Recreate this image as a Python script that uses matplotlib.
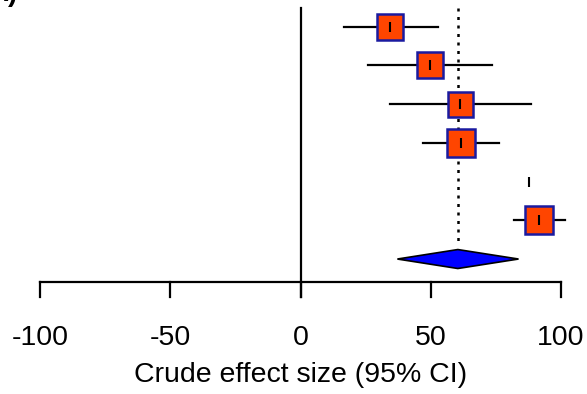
import numpy as np
import matplotlib
matplotlib.use("Agg")
import matplotlib.pyplot as plt
from matplotlib.patches import Polygon

plt.rcParams['font.family'] = ['Liberation Sans', 'DejaVu Sans']

# study estimates (crude effect size) and 95% CI, top to bottom
est = [34.2, 49.6, 61.2, 61.5, 87.6, 91.7]
lo = [16.5, 26.0, 34.4, 47.2, np.nan, 81.8]
hi = [52.7, 73.7, 88.6, 76.2, np.nan, 101.7]
box = [18.5, 18.5, 18, 19.5, 0, 19.5]  # box sizes (weights)
rows = [1, 2, 3, 4, 5, 6]

# pooled estimate
pooled = 60.4
pooled_lo = 37.2
pooled_hi = 83.7
pooled_row = 7

ticks = [-100, -50, 0, 50, 100]

fig = plt.figure(figsize=(5.87, 3.94), dpi=100)
ax = fig.add_axes([0, 0, 1, 1])
ax.set_xlim(-115.4, 110.0)
ax.set_ylim(10.486, 0.310)
ax.axis('off')

# zero line and pooled reference line
ax.plot([0, 0], [0.517, 7.98], color='black', lw=1.6)
ax.plot([pooled, pooled], [0.517, 6.64], color='black', lw=1.8, ls=(0, (1.2, 2.2)))

for r, e, l, h, b in zip(rows, est, lo, hi, box):
    if not np.isnan(l):
        ax.plot([l, h], [r, r], color='black', lw=1.6, zorder=2)
    if b > 0:
        ax.plot(e, r, marker='s', ms=b, mfc='#ff4500', mec='#1a1aa0', mew=1.8, zorder=3)
    ax.plot(e, r, marker='|', ms=7, mew=1.5, color='black', zorder=4)

# pooled diamond
hh = 0.245
diamond = Polygon([[pooled_lo, pooled_row], [pooled, pooled_row - hh],
                   [pooled_hi, pooled_row], [pooled, pooled_row + hh]],
                  closed=True, facecolor='#0000ff', edgecolor='black', lw=1.2, zorder=3)
ax.add_patch(diamond)

# x axis drawn by hand
axis_y = 7.593
tick_len = 0.39
ax.plot([ticks[0], ticks[-1]], [axis_y, axis_y], color='black', lw=1.6)
for t in ticks:
    ax.plot([t, t], [axis_y, axis_y + tick_len], color='black', lw=1.6)
    ax.text(t, 9.04, str(t), ha='center', va='center', fontsize=20.5)
ax.text(0, 9.99, 'Crude effect size (95% CI)', ha='center', va='center', fontsize=20.5)

fig.text(-12 / 587, 1 - 1 / 394, 'A)', fontsize=20, fontweight='bold', va='baseline')

fig.savefig('out.png', dpi=100)
